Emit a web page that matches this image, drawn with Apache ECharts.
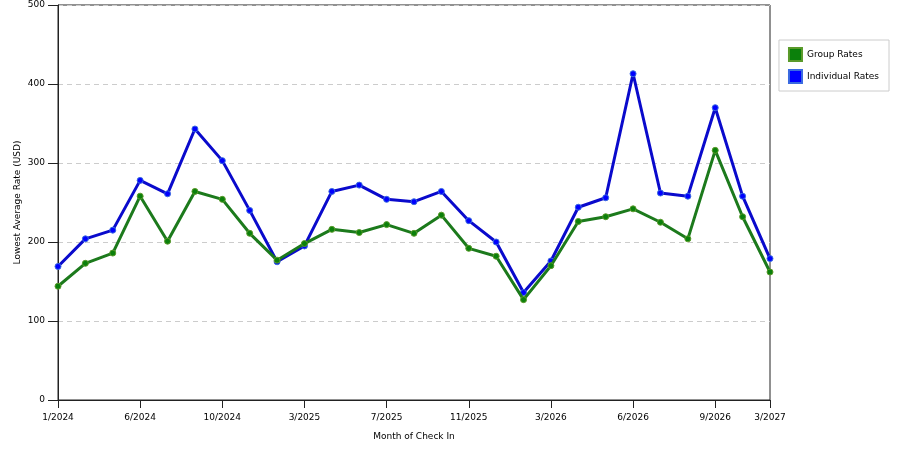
<!DOCTYPE html>
<html><head><meta charset="utf-8">
<script src="https://cdn.jsdelivr.net/npm/echarts@6/dist/echarts.min.js"></script>
<style>html,body{margin:0;padding:0;background:#fff}#c{width:900px;height:450px}</style>
</head><body><div id="c"></div>
<script>
var categories = ['1/2024','2/2024','4/2024','6/2024','7/2024','8/2024','10/2024','11/2024','1/2025',
  '3/2025','4/2025','5/2025','7/2025','8/2025','9/2025','11/2025','12/2025','1/2026',
  '3/2026','4/2026','5/2026','6/2026','7/2026','8/2026','9/2026','11/2026','3/2027'];
var groupRates = [144,173,186,258,201,264,254,211,177,198,216,212,222,211,234,192,182,127,170,226,232,242,225,204,316,232,162];
var individualRates = [169,204,215,278,261,343,303,240,175,195,264,272,254,251,264,227,200,136,176,244,256,413,262,258,370,258,179];
var yTicks = [0,100,200,300,400,500];

var font = 'DejaVu Sans';
var chart = echarts.init(document.getElementById('c'));
function showIdx(i){ return i % 3 === 0 || i === categories.length - 1; }
chart.setOption({
  animation: false,
  backgroundColor: '#fff',
  grid: {left: 58, right: 130, top: 5, bottom: 50, show: true, borderColor: '#222', borderWidth: 1, containLabel: false},
  legend: {
    orient: 'vertical', right: 11, top: 40,
    data: ['Group Rates','Individual Rates'],
    backgroundColor: '#fff', borderColor: '#ccc', borderWidth: 1,
    padding: [7, 10, 7, 9], itemGap: 7, itemWidth: 13, itemHeight: 13,
    icon: 'rect',
    textStyle: {fontFamily: font, fontSize: 9, color: '#000'}
  },
  xAxis: {
    type: 'category', data: categories, boundaryGap: false,
    name: 'Month of Check In', nameLocation: 'middle', nameGap: 32,
    nameMoveOverlap: false,
    nameTextStyle: {fontFamily: font, fontSize: 9, color: '#000'},
    axisLine: {lineStyle: {color: '#222'}},
    axisTick: {show: true, interval: function(i){return showIdx(i);}, length: 8, lineStyle: {color: '#222'}},
    axisLabel: {interval: function(i){return showIdx(i);}, fontFamily: font, fontSize: 9, color: '#000', margin: 13},
    splitLine: {show: false}
  },
  yAxis: {
    type: 'value', min: yTicks[0], max: yTicks[yTicks.length-1], interval: 100,
    name: 'Lowest Average Rate (USD)', nameLocation: 'middle', nameGap: 36,
    nameMoveOverlap: false,
    nameTextStyle: {fontFamily: font, fontSize: 9, color: '#000'},
    axisLine: {show: true, lineStyle: {color: '#222'}},
    axisTick: {show: true, inside: false, length: 10, lineStyle: {color: '#222'}},
    axisLabel: {inside: false, fontFamily: font, fontSize: 9, color: '#000', margin: 13},
    splitLine: {show: true, lineStyle: {color: '#ccc', type: [5, 4]}}
  },
  series: [
    {name: 'Group Rates', type: 'line', data: groupRates,
     itemStyle: {color: '#0b800b', borderColor: '#5a9a2a', borderWidth: 1},
     lineStyle: {color: '#1c7a1c', width: 3},
     symbol: 'circle', symbolSize: 6,
     z: 3},
    {name: 'Individual Rates', type: 'line', data: individualRates,
     itemStyle: {color: '#0000ff', borderColor: '#3a6ae0', borderWidth: 1},
     lineStyle: {color: '#0a0acc', width: 3},
     symbol: 'circle', symbolSize: 6,
     z: 2}
  ]
});
</script></body></html>
